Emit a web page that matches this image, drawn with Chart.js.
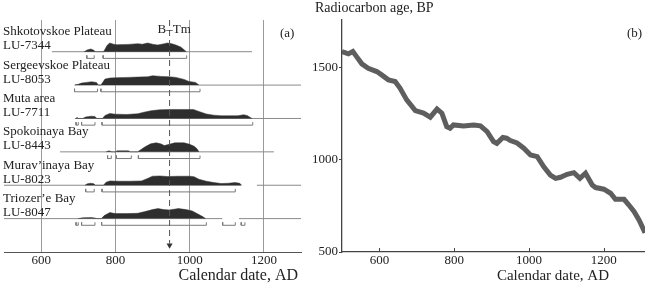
<!DOCTYPE html>
<html>
<head>
<meta charset="utf-8">
<script src="https://cdn.jsdelivr.net/npm/chart.js@4.4.1/dist/chart.umd.min.js"></script>
<style>
  body { margin: 0; background: #fff; }
  #wrap { position: relative; width: 645px; height: 285px; overflow: hidden; }
  #boxA { position: absolute; left: 0; top: 0; }
  #boxB { position: absolute; left: 300px; top: 0; }
</style>
</head>
<body>
<div id="wrap">
  <div id="boxA"><canvas id="chartA" width="305" height="285"></canvas></div>
  <div id="boxB"><canvas id="chartB" width="345" height="285"></canvas></div>
</div>
<script>
const SERIF = '"Liberation Serif", "DejaVu Serif", serif';
Chart.defaults.font.family = SERIF;
Chart.defaults.color = '#222';

// ---- panel (a): calibrated ages of the samples, top row first ----
const siteNames = ['Shkotovskoe Plateau', 'Sergeevskoe Plateau', 'Muta area', 'Spokoinaya Bay', 'Murav\u2019inaya Bay', 'Triozer\u2019e Bay'];
const labCodes = ['LU-7344', 'LU-8053', 'LU-7711', 'LU-8443', 'LU-8023', 'LU-8047'];
const rowLevels = [6, 5, 4, 3, 2, 1];
const calTicks = [600, 800, 1000, 1200];
const btmYear = 946; // B-Tm tephra

// probability distributions (relative density)
const probYears = [
  [716, 724, 734, 742, 746, 768, 772, 778, 785, 795, 803, 834, 860, 873, 887, 900, 914, 932, 940, 952, 963, 976, 985, 991],
  [690, 700, 709, 722, 736, 749, 754, 761, 772, 785, 800, 834, 860, 887, 900, 923, 945, 963, 985, 998, 1016, 1025],
  [693, 697, 701, 712, 720, 735, 745, 750, 765, 772, 785, 800, 830, 860, 880, 896, 920, 950, 990, 1010, 1025, 1045, 1065, 1085, 1110, 1130, 1145, 1155, 1168],
  [775, 783, 790, 800, 805, 835, 840, 860, 868, 880, 895, 910, 922, 932, 945, 960, 985, 1000, 1012, 1020, 1025],
  [718, 725, 733, 742, 746, 768, 775, 785, 810, 840, 870, 885, 900, 920, 940, 970, 1000, 1012, 1025, 1045, 1065, 1085, 1105, 1122, 1135, 1140],
  [700, 712, 735, 745, 750, 762, 770, 785, 800, 830, 860, 880, 900, 915, 930, 945, 970, 990, 1007, 1020, 1035, 1043]
];
const probDens = [
  [0, 1.8, 2.7, 1.5, 0, 0, 2.5, 6.5, 8.7, 7.5, 7, 7.3, 8, 7.5, 8.7, 7.5, 6.7, 8, 8.7, 8, 6.7, 4.7, 2, 0],
  [0, 0.8, 2, 2.7, 3.3, 2.7, 0, 0, 6, 7, 7.3, 7.7, 8, 8.3, 9.3, 8.7, 8.3, 7.7, 5.7, 3.7, 2.7, 0],
  [0, 1, 0, 0, 1.5, 2.3, 2, 0, 0, 3, 5, 4.3, 4, 4.7, 6.5, 7.7, 8.7, 9, 9, 9, 7, 4.5, 3.3, 2.7, 2.7, 2.7, 3.7, 3, 0],
  [0, 1, 0, 0, 1, 1, 0, 0, 2, 5, 8, 9, 8, 6.3, 7.5, 9, 9, 7.5, 5.7, 3, 0],
  [0, 1.5, 2, 1.5, 0, 0, 3, 4.3, 4, 4, 4.3, 6.5, 9, 9.3, 8.7, 9, 9, 8.5, 6, 4, 2.7, 1.7, 2, 2.7, 2, 0],
  [0, 0.8, 1, 0.5, 0, 0, 3, 6, 5, 5, 5.3, 7, 9, 10, 9, 8.7, 10, 9, 7.7, 5, 2, 0]
];
const DENS_SCALE = 0.03;

// extent of each sample's time line
const rowSpans = [
  [[629, 1168]],
  [[691, 1300]],
  [[691, 1300]],
  [[651, 1227]],
  [[500, 1139], [1181, 1300]],
  [[500, 1088], [1133, 1300]]
];
// calibrated age ranges (brackets under each row)
const rowRanges = [
  [[723, 743], [767, 992]],
  [[690, 752], [761, 1028]],
  [[694, 700], [709, 745], [764, 1170]],
  [[779, 789], [803, 843], [862, 1028]],
  [[720, 743], [764, 1123]],
  [[694, 700], [709, 745], [763, 1045], [1089, 1123], [1139, 1149]]
];

// ---- panel (b): calibration curve ----
const curveYears = [500, 517, 529, 539, 553, 570, 593, 606, 624, 642, 655, 673, 696, 718, 736, 754, 767, 780, 789, 798, 825, 852, 870, 888, 905, 914, 930, 940, 950, 968, 986, 1004, 1022, 1039, 1057, 1071, 1084, 1102, 1120, 1136, 1151, 1169, 1178, 1200, 1218, 1231, 1254, 1267, 1281, 1294, 1310];
const curveAges = [1589, 1576, 1589, 1561, 1522, 1498, 1480, 1462, 1435, 1426, 1390, 1326, 1268, 1254, 1232, 1276, 1254, 1181, 1172, 1190, 1185, 1190, 1185, 1154, 1100, 1090, 1122, 1118, 1105, 1092, 1064, 1027, 1018, 964, 918, 900, 906, 922, 931, 900, 928, 864, 850, 841, 819, 786, 786, 755, 719, 674, 605];
const ageTicks = [500, 1000, 1500];

// build panel (a) datasets
const dsA = [];
rowLevels.forEach((lvl, i) => {
  dsA.push({
    data: probYears[i].map((x, j) => ({ x: x, y: lvl + probDens[i][j] * DENS_SCALE })),
    borderColor: '#2e2e2e', borderWidth: 0.5, backgroundColor: '#2e2e2e',
    fill: { value: lvl }, pointRadius: 0, tension: 0, order: 2
  });
  const line = [];
  rowSpans[i].forEach(r => { line.push({ x: r[0], y: lvl }, { x: r[1], y: lvl }, { x: r[1], y: null }); });
  dsA.push({ data: line, borderColor: '#8a8a8a', borderWidth: 1, pointRadius: 0, fill: false, order: 3 });
  const br = [];
  rowRanges[i].forEach(r => {
    br.push({ x: r[0], y: lvl - 0.11 }, { x: r[0], y: lvl - 0.2 }, { x: r[1], y: lvl - 0.2 }, { x: r[1], y: lvl - 0.11 }, { x: r[1], y: null });
  });
  dsA.push({ data: br, borderColor: '#7a7a7a', borderWidth: 1, pointRadius: 0, fill: false, order: 3 });
});
dsA.push({
  data: [{ x: btmYear, y: 6.95 }, { x: btmYear, y: 0.25 }],
  borderColor: '#555', borderWidth: 1, borderDash: [6, 4], pointRadius: 0, fill: false, order: 1
});
dsA.push({
  data: [{ x: btmYear, y: 0.2 }],
  showLine: false, pointStyle: 'triangle', rotation: 180, pointRadius: 3.5,
  backgroundColor: '#333', borderColor: '#333', borderWidth: 0, order: 1
});

const labelsA = {
  id: 'labelsA',
  afterDraw(chart) {
    const ctx = chart.ctx, xs = chart.scales.x, ys = chart.scales.y;
    ctx.save();
    ctx.fillStyle = '#222';
    ctx.textBaseline = 'middle';
    ctx.textAlign = 'left';
    ctx.font = '13px ' + SERIF;
    siteNames.forEach((name, i) => {
      const yb = ys.getPixelForValue(rowLevels[i]);
      ctx.fillText(name, 3, yb - 20);
      ctx.fillText(labCodes[i], 3, yb - 6);
    });
    ctx.fillText('B\u2013Tm', xs.getPixelForValue(btmYear) - 12, 30);
    ctx.fillText('(a)', 280, 34);
    ctx.textAlign = 'right';
    ctx.font = '16px ' + SERIF;
    ctx.fillText('Calendar date, AD', 298, 276);
    ctx.restore();
  }
};

new Chart(document.getElementById('chartA'), {
  type: 'line',
  data: { datasets: dsA },
  options: {
    responsive: false,
    animation: false,
    layout: { padding: { left: 1.5, right: 3.5, top: 20, bottom: 0 } },
    plugins: { legend: { display: false }, tooltip: { enabled: false } },
    scales: {
      x: {
        type: 'linear', min: 500, max: 1300,
        afterBuildTicks: s => { s.ticks = calTicks.map(v => ({ value: v })); },
        afterFit: s => { s.height = 33; },
        grid: { color: '#9a9a9a', lineWidth: 1, drawTicks: false },
        border: { color: '#555', width: 1 },
        ticks: { padding: 1, font: { size: 13 }, color: '#222', callback: v => String(v) }
      },
      y: { type: 'linear', min: 0, max: 6.95, display: false }
    }
  },
  plugins: [labelsA]
});

// panel (b)
const labelsB = {
  id: 'labelsB',
  afterDraw(chart) {
    const ctx = chart.ctx, xs = chart.scales.x, area = chart.chartArea;
    ctx.save();
    ctx.strokeStyle = '#444';
    ctx.lineWidth = 1;
    xs.ticks.forEach(t => {
      const px = Math.round(xs.getPixelForValue(t.value)) + 0.5;
      ctx.beginPath();
      ctx.moveTo(px, area.bottom);
      ctx.lineTo(px, area.bottom - 4);
      ctx.stroke();
    });
    ctx.fillStyle = '#222';
    ctx.textBaseline = 'middle';
    ctx.textAlign = 'left';
    ctx.font = '14px ' + SERIF;
    ctx.fillText('Radiocarbon age, BP', 15, 8);
    ctx.font = '13px ' + SERIF;
    ctx.fillText('(b)', 327, 34);
    ctx.textAlign = 'right';
    ctx.font = '15px ' + SERIF;
    ctx.fillText('Calendar date, AD', 309, 276);
    ctx.restore();
  }
};

const curvePts = curveYears.map((x, i) => ({ x: x, y: curveAges[i] }));
new Chart(document.getElementById('chartB'), {
  type: 'line',
  data: {
    datasets: [
      { data: curvePts, borderColor: '#5e5e5e', borderWidth: 5, pointRadius: 0, fill: false, tension: 0 },
      { data: curvePts, borderColor: '#858585', borderWidth: 3, pointRadius: 0, fill: false, tension: 0 }
    ]
  },
  options: {
    responsive: false,
    animation: false,
    layout: { padding: { left: 0, right: 0, top: 20, bottom: 0 } },
    plugins: { legend: { display: false }, tooltip: { enabled: false } },
    scales: {
      x: {
        type: 'linear', min: 500, max: 1310,
        afterBuildTicks: s => { s.ticks = calTicks.map(v => ({ value: v })); },
        afterFit: s => { s.height = 33; },
        grid: { display: false, drawTicks: false },
        border: { color: '#444', width: 1.3 },
        ticks: { padding: 1, font: { size: 13 }, color: '#222', callback: v => String(v) }
      },
      y: {
        type: 'linear', min: 500, max: 1760,
        afterBuildTicks: s => { s.ticks = ageTicks.map(v => ({ value: v })); },
        afterFit: s => { s.width = 42; },
        grid: { drawOnChartArea: false, tickLength: 3, color: '#444' },
        border: { color: '#444', width: 1.3 },
        ticks: { padding: 1, font: { size: 13 }, color: '#222', callback: v => String(v) }
      }
    }
  },
  plugins: [labelsB]
});
</script>
</body>
</html>
